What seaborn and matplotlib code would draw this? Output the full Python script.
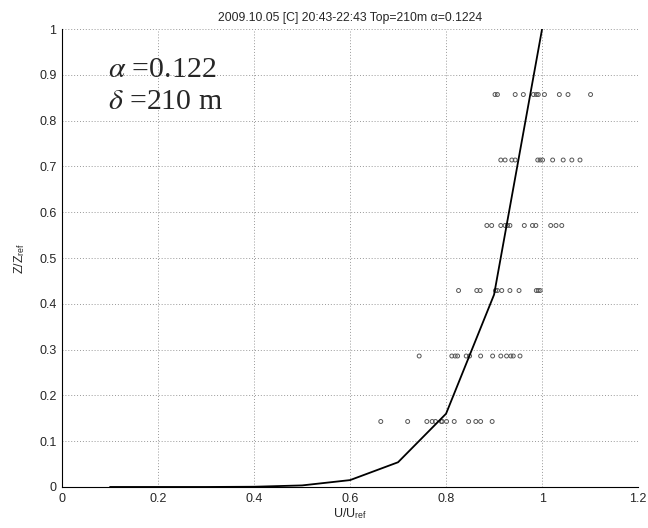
import numpy as np
import pandas as pd
import matplotlib
matplotlib.use("Agg")
import matplotlib.pyplot as plt
import seaborn as sns

# measured points: one list of U/Uref per height level Z/Zref
levels = [0.143, 0.286, 0.429, 0.571, 0.714, 0.857]
u_143 = [0.664, 0.720, 0.760, 0.771, 0.778, 0.790, 0.792, 0.801, 0.817, 0.847, 0.862, 0.872, 0.896]
u_286 = [0.744, 0.812, 0.819, 0.824, 0.842, 0.849, 0.872, 0.897, 0.914, 0.926, 0.935, 0.940, 0.954]
u_429 = [0.826, 0.864, 0.871, 0.903, 0.907, 0.916, 0.933, 0.952, 0.988, 0.992, 0.996]
u_571 = [0.885, 0.895, 0.914, 0.923, 0.928, 0.933, 0.963, 0.980, 0.987, 1.018, 1.029, 1.041]
u_714 = [0.914, 0.923, 0.937, 0.944, 0.991, 0.996, 1.001, 1.022, 1.044, 1.062, 1.079]
u_857 = [0.902, 0.907, 0.944, 0.961, 0.982, 0.988, 0.992, 1.005, 1.036, 1.054, 1.101]

# fitted profile
fit_u = [0.1, 0.2, 0.3, 0.4, 0.5, 0.6, 0.7, 0.8, 0.9, 1.0]
fit_z = [0.0, 0.0, 0.0, 0.0005, 0.0034, 0.015, 0.054, 0.16, 0.42, 1.0]

title = "2009.10.05 [C] 20:43-22:43 Top=210m \u03b1=0.1224"
xticks = [0, 0.2, 0.4, 0.6, 0.8, 1.0, 1.2]
xtick_labels = ["0", "0.2", "0.4", "0.6", "0.8", "1", "1.2"]
yticks = [0, 0.1, 0.2, 0.3, 0.4, 0.5, 0.6, 0.7, 0.8, 0.9, 1.0]
ytick_labels = ["0", "0.1", "0.2", "0.3", "0.4", "0.5", "0.6", "0.7", "0.8", "0.9", "1"]

rows = []
for z, us in zip(levels, [u_143, u_286, u_429, u_571, u_714, u_857]):
    for u in us:
        rows.append({"u": u, "z": z})
pts = pd.DataFrame(rows)
fit = pd.DataFrame({"u": fit_u, "z": fit_z})

sns.set_style("white")
plt.rcParams["font.family"] = ["Liberation Sans", "DejaVu Sans"]
plt.rcParams["mathtext.fontset"] = "stix"

fig = plt.figure(figsize=(6.48, 5.28), dpi=100)
ax = fig.add_axes([0.0957, 0.0777, 0.889, 0.8673])

sns.scatterplot(data=pts, x="u", y="z", ax=ax, marker="o", s=8,
                facecolor="none", edgecolor="#555555", linewidth=0.7, zorder=3)
sns.lineplot(data=fit, x="u", y="z", ax=ax, sort=False, color="black",
             linewidth=1.3, zorder=4)

ax.set_xlim(0, 1.2)
ax.set_ylim(0, 1)
ax.set_xticks(xticks)
ax.set_xticklabels(xtick_labels, fontsize=9)
ax.set_yticks(yticks)
ax.set_yticklabels(ytick_labels, fontsize=9)
ax.tick_params(direction="in", length=4, width=0.8, color="black", pad=4)
ax.grid(True, linestyle=(0, (1, 2)), color="#999999", linewidth=0.7)
for side in ["top", "right"]:
    ax.spines[side].set_visible(False)
for side in ["left", "bottom"]:
    ax.spines[side].set_color("black")
    ax.spines[side].set_linewidth(0.8)

ax.set_xlabel(r"U/U$_\mathregular{ref}$", fontsize=9, labelpad=1)
ax.set_ylabel(r"Z/Z$_\mathregular{ref}$", fontsize=9, labelpad=9)
ax.set_title(title, fontsize=8.8, pad=6)

ax.text(0.096, 0.91, r"$\alpha$ =0.122", fontsize=21.5, family="Liberation Serif",
        va="center", ha="left")
ax.text(0.096, 0.84, r"$\delta$ =210 m", fontsize=21.5, family="Liberation Serif",
        va="center", ha="left")

fig.savefig("out.png", dpi=100)
